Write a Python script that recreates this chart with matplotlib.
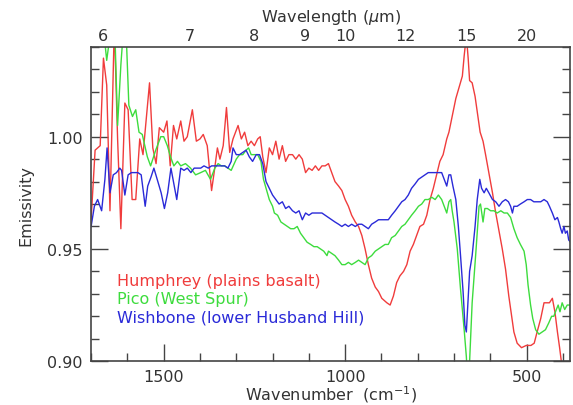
import numpy as np
import matplotlib
matplotlib.use("Agg")
import matplotlib.pyplot as plt
from matplotlib.ticker import MultipleLocator

plt.rcParams['font.family'] = ['DejaVu Sans']
plt.rcParams['mathtext.fontset'] = 'dejavusans'

# Humphrey (plains basalt)
red_wn = [1700, 1689, 1675, 1666, 1657, 1648, 1636, 1627, 1618, 1607, 1598, 1587, 1577, 1566, 1557,
          1539, 1530, 1521, 1512, 1500, 1491, 1482, 1473, 1464, 1453, 1444, 1435, 1421, 1410, 1400,
          1391, 1380, 1368, 1361, 1352, 1345, 1336, 1327, 1318, 1309, 1295, 1286, 1277, 1268, 1259,
          1250, 1241, 1234, 1227, 1218, 1209, 1200, 1191, 1182, 1173, 1164, 1155, 1145, 1136, 1127,
          1118, 1109, 1100, 1091, 1082, 1073, 1064, 1055, 1046, 1037, 1028, 1018, 1009, 1000, 991,
          982, 972, 963, 954, 945, 936, 927, 917, 908, 899, 885, 876, 867, 858, 849,
          839, 830, 821, 812, 803, 794, 784, 775, 766, 757, 748, 739, 730, 720, 714,
          705, 695, 686, 677, 672, 666, 661, 657, 650, 642, 635, 628, 620, 613, 604,
          594, 585, 576, 567, 558, 549, 541, 535, 526, 514, 501, 488, 479, 471, 461,
          452, 443, 437, 429, 422, 415, 409, 402, 395]
red_em = [0.963, 0.994, 0.996, 1.035, 1.023, 0.967, 1.050, 0.999, 0.959, 1.015, 1.012, 0.972, 0.972, 0.999, 0.992,
          1.024, 0.995, 0.988, 1.004, 1.002, 1.007, 0.987, 1.005, 0.999, 1.007, 0.998, 1.000, 1.012, 0.998, 0.999,
          1.001, 0.996, 0.976, 0.984, 0.995, 0.990, 0.996, 1.013, 0.993, 0.999, 1.005, 0.999, 1.002, 0.996, 0.998,
          0.996, 0.999, 1.000, 0.991, 0.984, 0.995, 0.992, 0.998, 0.990, 0.996, 0.989, 0.992, 0.992, 0.990, 0.992,
          0.990, 0.984, 0.986, 0.985, 0.987, 0.985, 0.987, 0.987, 0.988, 0.984, 0.980, 0.978, 0.976, 0.972, 0.969,
          0.965, 0.962, 0.960, 0.956, 0.950, 0.943, 0.937, 0.933, 0.931, 0.928, 0.926, 0.925, 0.929, 0.935, 0.938,
          0.940, 0.943, 0.949, 0.952, 0.956, 0.960, 0.961, 0.965, 0.972, 0.977, 0.983, 0.989, 0.992, 0.999, 1.002,
          1.009, 1.017, 1.022, 1.027, 1.036, 1.045, 1.035, 1.025, 1.024, 1.018, 1.010, 1.002, 0.998, 0.992, 0.984,
          0.975, 0.966, 0.958, 0.950, 0.941, 0.929, 0.920, 0.913, 0.908, 0.906, 0.907, 0.907, 0.908, 0.913, 0.919,
          0.926, 0.926, 0.926, 0.928, 0.922, 0.913, 0.906, 0.897, 0.888]

# Pico (West Spur)
green_wn = [1675, 1664, 1657, 1648, 1637, 1627, 1618, 1610, 1602, 1596, 1586, 1577, 1568, 1559, 1545,
            1536, 1522, 1508, 1500, 1490, 1481, 1472, 1462, 1453, 1440, 1426, 1412, 1398, 1385, 1371,
            1359, 1350, 1341, 1332, 1323, 1314, 1300, 1291, 1282, 1273, 1266, 1259, 1250, 1241, 1232,
            1225, 1218, 1209, 1200, 1195, 1186, 1177, 1168, 1159, 1150, 1141, 1132, 1123, 1114, 1105,
            1095, 1086, 1077, 1068, 1059, 1050, 1046, 1037, 1028, 1018, 1009, 1000, 991, 982, 972,
            963, 954, 945, 936, 927, 917, 908, 899, 890, 881, 872, 862, 853, 844, 835,
            826, 817, 807, 798, 789, 780, 771, 761, 752, 743, 734, 727, 720, 714, 709,
            705, 700, 691, 682, 672, 666, 662, 657, 650, 640, 631, 627, 620, 615, 608,
            599, 590, 581, 571, 562, 553, 544, 535, 526, 517, 507, 501, 496, 489, 483,
            475, 466, 457, 448, 439, 431, 425, 418, 413, 408, 402, 395, 388, 379]
green_em = [1.060, 1.045, 1.034, 1.045, 1.060, 1.005, 1.032, 1.050, 1.040, 1.014, 1.009, 1.012, 1.002, 1.001, 0.991,
            0.987, 0.994, 1.000, 1.000, 0.996, 0.991, 0.987, 0.989, 0.987, 0.988, 0.986, 0.983, 0.984, 0.985, 0.981,
            0.986, 0.988, 0.987, 0.987, 0.986, 0.985, 0.990, 0.992, 0.992, 0.994, 0.995, 0.992, 0.992, 0.992, 0.989,
            0.981, 0.977, 0.972, 0.969, 0.966, 0.965, 0.962, 0.961, 0.960, 0.959, 0.959, 0.960, 0.957, 0.955, 0.953,
            0.952, 0.951, 0.951, 0.950, 0.949, 0.947, 0.949, 0.948, 0.947, 0.945, 0.943, 0.943, 0.944, 0.943, 0.944,
            0.945, 0.944, 0.943, 0.946, 0.947, 0.949, 0.950, 0.951, 0.952, 0.952, 0.955, 0.956, 0.958, 0.960, 0.961,
            0.963, 0.965, 0.967, 0.969, 0.970, 0.972, 0.972, 0.973, 0.972, 0.974, 0.972, 0.969, 0.966, 0.971, 0.972,
            0.967, 0.962, 0.950, 0.932, 0.914, 0.902, 0.890, 0.900, 0.926, 0.948, 0.969, 0.970, 0.962, 0.968, 0.968,
            0.967, 0.967, 0.966, 0.967, 0.966, 0.966, 0.964, 0.959, 0.955, 0.952, 0.949, 0.943, 0.934, 0.925, 0.919,
            0.914, 0.912, 0.913, 0.914, 0.917, 0.920, 0.920, 0.923, 0.925, 0.922, 0.926, 0.923, 0.925, 0.925]

# Wishbone (lower Husband Hill)
blue_wn = [1700, 1691, 1682, 1671, 1662, 1656, 1648, 1639, 1630, 1621, 1616, 1607, 1598, 1589, 1580,
           1571, 1562, 1551, 1544, 1535, 1527, 1516, 1507, 1498, 1489, 1480, 1471, 1464, 1453, 1444,
           1435, 1425, 1416, 1407, 1398, 1389, 1377, 1368, 1359, 1350, 1341, 1332, 1323, 1314, 1309,
           1300, 1291, 1282, 1273, 1264, 1255, 1245, 1236, 1227, 1218, 1209, 1200, 1191, 1182, 1173,
           1164, 1155, 1145, 1136, 1127, 1118, 1109, 1100, 1091, 1082, 1073, 1064, 1055, 1046, 1037,
           1028, 1018, 1009, 1000, 991, 982, 972, 963, 954, 945, 936, 927, 917, 908, 899,
           890, 881, 872, 862, 853, 844, 835, 826, 817, 807, 798, 789, 780, 771, 761,
           752, 743, 734, 727, 720, 714, 709, 703, 695, 688, 682, 675, 670, 666, 662,
           657, 650, 642, 636, 629, 624, 617, 611, 604, 594, 585, 576, 567, 558, 550,
           544, 539, 535, 526, 517, 507, 498, 489, 480, 471, 461, 452, 443, 437, 429,
           422, 415, 411, 406, 402, 397, 393, 388, 384, 379]
blue_em = [0.960, 0.969, 0.972, 0.967, 0.981, 0.995, 0.975, 0.983, 0.984, 0.986, 0.985, 0.974, 0.983, 0.984, 0.984,
           0.984, 0.983, 0.969, 0.978, 0.982, 0.986, 0.980, 0.975, 0.968, 0.975, 0.986, 0.978, 0.972, 0.986, 0.985,
           0.986, 0.984, 0.986, 0.986, 0.986, 0.987, 0.986, 0.987, 0.987, 0.987, 0.987, 0.987, 0.986, 0.989, 0.995,
           0.992, 0.992, 0.993, 0.994, 0.991, 0.989, 0.992, 0.992, 0.988, 0.980, 0.977, 0.974, 0.972, 0.970, 0.971,
           0.968, 0.969, 0.967, 0.966, 0.967, 0.963, 0.966, 0.965, 0.966, 0.966, 0.966, 0.966, 0.965, 0.964, 0.963,
           0.962, 0.961, 0.960, 0.961, 0.960, 0.961, 0.960, 0.961, 0.961, 0.960, 0.959, 0.961, 0.962, 0.963, 0.963,
           0.963, 0.963, 0.965, 0.967, 0.969, 0.971, 0.972, 0.974, 0.977, 0.979, 0.981, 0.982, 0.983, 0.984, 0.984,
           0.984, 0.984, 0.984, 0.981, 0.978, 0.983, 0.983, 0.978, 0.972, 0.960, 0.947, 0.931, 0.916, 0.913, 0.925,
           0.940, 0.947, 0.960, 0.972, 0.981, 0.977, 0.975, 0.977, 0.975, 0.972, 0.971, 0.969, 0.971, 0.972, 0.971,
           0.969, 0.966, 0.969, 0.969, 0.970, 0.971, 0.972, 0.972, 0.971, 0.971, 0.971, 0.972, 0.971, 0.969, 0.966,
           0.963, 0.964, 0.962, 0.959, 0.957, 0.960, 0.957, 0.958, 0.954, 0.953]

names = ["Humphrey (plains basalt)", "Pico (West Spur)", "Wishbone (lower Husband Hill)"]
colors = ["#f03c3c", "#3ddc3d", "#2a2ad8"]
wavelengths = [6, 7, 8, 9, 10, 12, 15, 20]

axc = "#444444"
txc = "#333333"

fig = plt.figure(figsize=(5.73, 4.06), dpi=100)
ax = fig.add_axes([0.159, 0.108, 0.836, 0.774])

ax.plot(red_wn, red_em, color=colors[0], lw=1.0)
ax.plot(green_wn, green_em, color=colors[1], lw=1.0)
ax.plot(blue_wn, blue_em, color=colors[2], lw=1.0)

ax.set_xlim(1700, 380)
ax.set_ylim(0.90, 1.04)
ax.xaxis.set_major_locator(MultipleLocator(500))
ax.xaxis.set_minor_locator(MultipleLocator(100))
ax.yaxis.set_major_locator(MultipleLocator(0.05))
ax.yaxis.set_minor_locator(MultipleLocator(0.01))
ax.yaxis.set_major_formatter(plt.FormatStrFormatter('%.2f'))

ax.tick_params(which='both', direction='in', top=True, right=True, color=axc, width=1.0)
ax.tick_params(which='major', length=12, labelsize=11.5, labelcolor=txc)
ax.tick_params(which='minor', length=6)
ax.tick_params(axis='x', which='major', pad=6)
ax.tick_params(axis='y', which='major', pad=6)
for s in ax.spines.values():
    s.set_color(axc)
    s.set_linewidth(1.2)

ax.set_xlabel(r"Wavenumber  (cm$^{-1}$)", fontsize=11.5, color=txc, labelpad=-1)
ax.set_ylabel("Emissivity", fontsize=11.5, color=txc, labelpad=10)

ax2 = ax.twiny()
ax2.set_xlim(ax.get_xlim())
ax2.set_xticks([1e4 / w for w in wavelengths])
ax2.set_xticklabels([str(w) for w in wavelengths])
ax2.tick_params(axis='x', length=0, pad=3, labelsize=11.5, labelcolor=txc)
ax2.set_xlabel(r"Wavelength ($\mu$m)", fontsize=11.5, color=txc, labelpad=5)
for s in ax2.spines.values():
    s.set_visible(False)

for i, name in enumerate(names):
    ax.text(0.054, 0.258 - i * 0.058, name, color=colors[i], fontsize=11.5,
            transform=ax.transAxes, va='center', ha='left')

plt.savefig("out.png", dpi=100)
